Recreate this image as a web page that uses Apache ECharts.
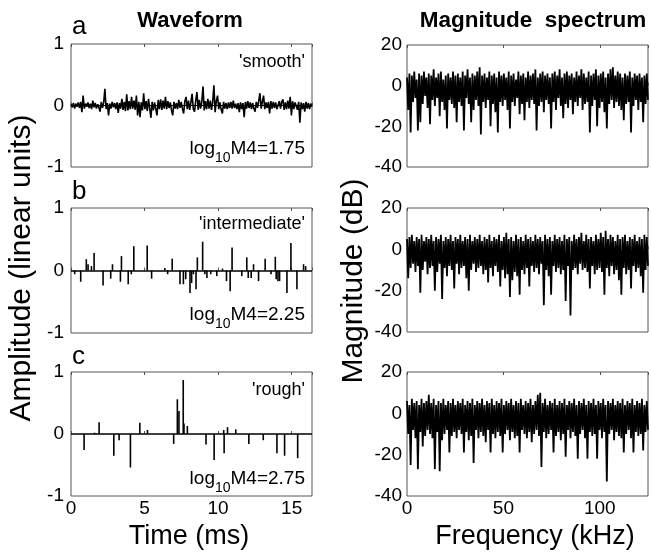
<!DOCTYPE html>
<html><head><meta charset="utf-8">
<script src="https://cdn.jsdelivr.net/npm/echarts@6/dist/echarts.min.js"></script>
<style>html,body{margin:0;padding:0;background:#fff}#c{width:651px;height:554px}</style>
</head><body><div id="c"></div>
<script>
// ---------- DATA ----------
const timeMaxMs = 16.384;
const freqMaxKHz = 125;
const timeTicks = [0, 5, 10, 15];
const freqTicks = [0, 50, 100];
const ampTicks = [-1, 0, 1];
const dbTicks = [-40, -20, 0, 20];
const panelLetters = ['a', 'b', 'c'];
const panelNames = ["'smooth'", "'intermediate'", "'rough'"];
const log10M4 = ['1.75', '2.25', '2.75'];

// 'smooth' waveform, evenly spaced samples across 0..16.384 ms
const smoothWave = [
 0.02,-0.03,0.04,-0.05,0.03,-0.02,0.05,-0.04,0.06,-0.11,0.16,-0.05,0.03,-0.02,0.05,-0.04,0.03,-0.06,0.08,-0.03,
 0.04,-0.05,0.02,-0.03,-0.10,0.06,-0.04,0.05,0.27,-0.06,0.04,-0.16,0.03,-0.05,0.06,-0.03,0.04,-0.06,0.05,-0.12,
 0.04,-0.05,0.11,-0.07,0.06,-0.09,0.18,-0.08,0.07,-0.06,0.14,-0.05,0.08,-0.07,0.16,-0.16,0.06,-0.19,0.05,-0.08,
 0.20,-0.06,0.07,-0.09,0.11,-0.05,-0.20,0.06,-0.08,0.05,0.04,-0.16,0.09,-0.06,0.10,-0.07,0.08,-0.05,0.14,-0.06,
 0.07,-0.04,0.05,-0.08,-0.16,0.06,-0.05,0.04,-0.06,0.09,-0.04,0.06,-0.05,-0.13,0.07,0.14,-0.06,0.08,-0.07,0.05,
 0.19,-0.06,-0.10,0.08,0.22,-0.07,0.09,-0.05,0.06,0.31,-0.08,0.07,-0.06,0.11,-0.05,0.08,-0.07,0.06,0.33,-0.11,
 0.07,0.16,-0.06,0.05,-0.07,-0.13,0.06,-0.05,0.04,-0.06,0.05,-0.04,0.06,-0.05,0.08,-0.04,0.03,-0.06,0.04,-0.11,
 0.05,-0.06,0.04,-0.19,0.06,-0.05,0.07,-0.04,0.05,-0.06,0.04,-0.05,-0.10,0.06,-0.04,0.07,0.20,-0.05,0.06,0.16,
 -0.06,0.05,-0.04,0.06,-0.13,0.07,-0.05,0.06,-0.04,0.05,-0.06,-0.08,0.07,-0.05,0.06,0.10,-0.07,0.05,-0.06,0.08,
 -0.05,0.14,-0.16,0.07,-0.06,0.05,0.08,-0.07,0.06,-0.28,0.05,-0.06,0.04,-0.10,0.06,-0.05,0.04,-0.06,0.03,-0.02
];

// 'intermediate' impulses
const intermTimes = [0.25,0.66,1.04,1.16,1.39,1.57,2.18,2.70,2.82,3.36,3.43,3.89,4.10,4.27,5.18,5.48,6.38,6.57,6.88,7.41,7.64,7.80,8.09,8.20,8.32,8.50,8.59,8.95,9.10,9.24,9.50,9.91,10.30,10.57,10.82,10.95,11.61,11.95,12.05,12.25,12.41,12.75,13.20,13.60,13.89,13.95,14.07,14.18,14.68,14.95,15.36,15.81,15.95];
const intermAmps  = [-0.06,-0.18,0.18,0.10,0.07,0.28,-0.24,-0.13,0.10,-0.18,0.23,-0.22,-0.06,0.39,0.40,-0.13,0.04,-0.06,0.19,-0.22,-0.22,-0.14,-0.36,-0.20,-0.06,-0.30,0.21,0.46,-0.06,-0.12,-0.06,-0.09,0.03,-0.17,-0.33,0.37,-0.09,0.21,-0.12,-0.12,0.10,-0.17,0.19,-0.06,0.22,-0.14,-0.17,-0.17,-0.36,0.44,-0.30,0.10,0.07];

// 'rough' impulses
const roughTimes = [0.89,1.60,1.91,2.91,3.27,4.04,4.68,5.20,6.98,7.23,7.34,7.63,7.68,7.91,9.18,9.73,10.38,10.41,10.64,11.20,12.09,13.07,14.00,14.52,15.41];
const roughAmps  = [-0.26,0.02,0.19,-0.35,-0.10,-0.54,0.18,0.065,-0.16,0.56,0.37,0.87,0.17,0.13,-0.17,-0.42,0.065,-0.31,0.11,0.075,-0.16,-0.10,-0.31,-0.35,-0.39];

// magnitude spectra (dB), evenly spaced across 0..125 kHz
const specSmooth = [
 4,-12,6,-23,5,-8,7,-6,3,-22,6,-18,5,-9,7,-5,4,-11,6,-19,
 5,-7,8,-10,4,-6,6,-15,7,-8,3,-12,5,-21,6,-7,4,-9,7,-11,
 5,-18,6,-8,4,-10,7,-22,5,-6,8,-9,4,-18,6,-12,5,-7,7,-10,
 9,-24,5,-8,6,-11,4,-7,7,-20,5,-9,6,-13,4,-23,7,-8,5,-10,
 6,-7,4,-12,7,-21,5,-8,6,-10,3,-6,7,-14,5,-9,6,-17,4,-8,
 7,-11,5,-7,6,-9,8,-22,4,-10,6,-8,7,-13,5,-7,6,-9,4,-21,
 6,-8,7,-12,5,-6,8,-10,4,-16,6,-9,7,-11,5,-7,6,-14,4,-8,
 7,-10,5,-6,8,-12,6,-9,4,-8,7,-23,5,-10,6,-7,8,-20,5,-11,
 6,-8,7,-13,4,-21,6,-9,8,-7,9,-11,5,-8,7,-10,6,-12,4,-17,
 6,-9,5,-8,7,-23,4,-10,6,-7,5,-12,6,-8,4,-18,5,-9,6,-7
];
const specInterm = [
 5,-14,6,-9,7,-7,4,-11,6,-8,5,-21,7,-10,4,-6,6,-12,5,-9,
 7,-8,4,-20,6,-11,5,-7,7,-24,4,-9,6,-13,5,-8,7,-10,4,-19,
 6,-7,5,-12,7,-9,4,-8,6,-14,5,-20,7,-10,4,-7,6,-11,5,-9,
 7,-8,4,-12,6,-10,5,-16,7,-9,4,-13,6,-8,5,-11,7,-18,4,-10,
 6,-14,8,-12,5,-23,6,-15,4,-11,7,-13,5,-22,6,-10,4,-12,7,-9,
 5,-18,6,-8,4,-11,7,-9,5,-12,6,-7,4,-27,7,-10,5,-13,6,-22,
 4,-8,7,-11,5,-9,6,-12,4,-10,7,-25,5,-8,6,-32,4,-10,7,-9,
 5,-12,6,-7,8,-10,4,-9,7,-11,5,-19,6,-8,4,-12,7,-10,5,-9,
 8,-11,6,-22,9,-9,5,-13,7,-8,6,-12,4,-10,7,-15,5,-22,6,-9,
 7,-12,4,-10,6,-19,5,-8,7,-11,4,-9,6,-13,5,-21,7,-10,6,-8
];
const specRough = [
 6,-10,4,-25,7,-8,5,-12,6,-27,4,-9,7,-16,5,-11,6,-8,9,-10,
 5,-12,7,-27,4,-9,6,-28,5,-13,7,-10,4,-8,6,-19,5,-11,7,-9,
 4,-12,6,-8,5,-10,7,-19,4,-9,6,-13,5,-11,7,-24,4,-8,6,-12,
 5,-9,7,-11,4,-14,6,-8,5,-19,7,-10,4,-12,6,-9,5,-11,7,-19,
 4,-10,6,-8,5,-13,7,-9,4,-12,6,-11,5,-19,7,-8,4,-10,6,-12,
 5,-9,7,-14,4,-10,6,-8,9,-11,10,-26,5,-9,7,-12,4,-10,6,-8,
 5,-19,7,-11,4,-9,6,-13,5,-10,7,-21,4,-8,6,-12,5,-9,7,-11,
 4,-22,6,-10,5,-8,7,-12,4,-22,6,-9,5,-11,7,-10,4,-22,6,-8,
 5,-12,7,-9,4,-33,6,-10,5,-8,7,-13,4,-9,6,-11,5,-12,7,-19,
 4,-10,6,-8,5,-12,7,-19,4,-9,6,-11,5,-10,7,-18,4,-9,6,-8
];

// ---------- BUILD ----------
const FONT = '"Liberation Sans", Arial, Helvetica, sans-serif';
const chart = echarts.init(document.getElementById('c'), null, {renderer: 'canvas'});

const grids = [
  {left: 71, top: 44, width: 241, height: 123},
  {left: 71, top: 208, width: 241, height: 125},
  {left: 71, top: 372, width: 241, height: 124},
  {left: 407, top: 45, width: 241, height: 122},
  {left: 407, top: 208, width: 241, height: 124},
  {left: 407, top: 372, width: 241, height: 124}
].map(g => Object.assign({show: true, borderColor: '#555', borderWidth: 1, backgroundColor: 'transparent'}, g));

const xAxes = [], yAxes = [];
grids.forEach((g, i) => {
  const left = i < 3;
  const last = (i === 2 || i === 5);
  const common = {
    gridIndex: i, type: 'value', min: 0, max: left ? timeMaxMs : freqMaxKHz,
    interval: left ? 5 : 50,
    splitLine: {show: false},
    axisLine: {show: false}
  };
  xAxes.push(Object.assign({}, common, {
    position: 'bottom',
    axisTick: {show: true, inside: true, length: 3, lineStyle: {color: '#555'}},
    axisLabel: {show: last, showMaxLabel: false, margin: 3, fontSize: 19, color: '#000', fontFamily: FONT}
  }));
  xAxes.push(Object.assign({}, common, {
    position: 'top',
    axisTick: {show: true, inside: true, length: 3, lineStyle: {color: '#555'}},
    axisLabel: {show: false}
  }));
  yAxes.push({
    gridIndex: i, type: 'value',
    min: left ? -1 : -40, max: left ? 1 : 20, interval: left ? 1 : 20,
    splitLine: {show: false}, axisLine: {show: false},
    axisTick: {show: false},
    axisLabel: {margin: left ? 7 : 5, fontSize: 19, color: '#000', fontFamily: FONT}
  });
});

const dtS = timeMaxMs / (smoothWave.length - 1);
const zeroLine = {
  silent: true, symbol: ['none', 'none'], label: {show: false},
  lineStyle: {color: '#000', width: 1.5, type: 'solid'},
  data: [{yAxis: 0}], animation: false
};

function specSeries(arr, gi) {
  const df = freqMaxKHz / (arr.length - 1);
  return {
    type: 'line', xAxisIndex: gi * 2, yAxisIndex: gi,
    data: arr.map((v, k) => [k * df, v]),
    showSymbol: false, symbol: 'none', sampling: null,
    lineStyle: {color: '#000', width: 1.8, join: 'miter', miterLimit: 2}, animation: false, silent: true
  };
}

const series = [
  {
    type: 'line', xAxisIndex: 0, yAxisIndex: 0,
    data: smoothWave.map((v, k) => [k * dtS, v]),
    showSymbol: false, symbol: 'none',
    lineStyle: {color: '#000', width: 1.6}, animation: false, silent: true,
    markLine: Object.assign({}, zeroLine, {lineStyle: {color: '#000', width: 1.2, type: 'solid'}})
  },
  {
    type: 'bar', xAxisIndex: 2, yAxisIndex: 1, barWidth: 1.6,
    data: intermTimes.map((t, k) => [t, intermAmps[k]]),
    itemStyle: {color: '#000'}, animation: false, silent: true,
    markLine: zeroLine
  },
  {
    type: 'bar', xAxisIndex: 4, yAxisIndex: 2, barWidth: 1.6,
    data: roughTimes.map((t, k) => [t, roughAmps[k]]),
    itemStyle: {color: '#000'}, animation: false, silent: true,
    markLine: zeroLine
  },
  specSeries(specSmooth, 3),
  specSeries(specInterm, 4),
  specSeries(specRough, 5)
];

const graphics = [];
function txt(x, y, text, size, opts) {
  graphics.push(Object.assign({
    type: 'text', x: x, y: y, silent: true,
    style: Object.assign({text: text, fontSize: size, fontFamily: FONT, fill: '#000',
      textAlign: 'center', textVerticalAlign: 'middle'}, (opts && opts.style) || {})
  }, (opts && opts.el) || {}));
}
txt(190, 21, 'Waveform', 22, {style: {fontWeight: 'bold'}});
txt(533, 21, 'Magnitude  spectrum', 22.5, {style: {fontWeight: 'bold'}});
const letterY = [27, 192, 357];
const nameY = [62, 224, 390];
const logY = [152, 318, 482];
panelLetters.forEach((l, k) => {
  txt(72, letterY[k], l, 26, {style: {textAlign: 'left'}});
  txt(305, nameY[k], panelNames[k], 18, {style: {textAlign: 'right'}});
  graphics.push({
    type: 'text', x: 305, y: logY[k], silent: true,
    style: {
      text: '{m|log}{s|10}{m|M4=' + log10M4[k] + '}',
      textAlign: 'right', textVerticalAlign: 'middle', fontFamily: FONT, fill: '#000',
      rich: {
        m: {fontSize: 19, fontFamily: FONT, lineHeight: 26, verticalAlign: 'top', fill: '#000'},
        s: {fontSize: 14, fontFamily: FONT, lineHeight: 26, verticalAlign: 'bottom', fill: '#000'}
      }
    }
  });
});
txt(22, 268, 'Amplitude (linear units)', 30, {el: {rotation: Math.PI / 2}});
txt(354, 281, 'Magnitude (dB)', 30, {el: {rotation: Math.PI / 2}});
txt(189, 537, 'Time (ms)', 27);
txt(535, 537, 'Frequency (kHz)', 27);

chart.setOption({
  animation: false,
  backgroundColor: '#fff',
  grid: grids, xAxis: xAxes, yAxis: yAxes, series: series,
  graphic: graphics
});
</script></body></html>
